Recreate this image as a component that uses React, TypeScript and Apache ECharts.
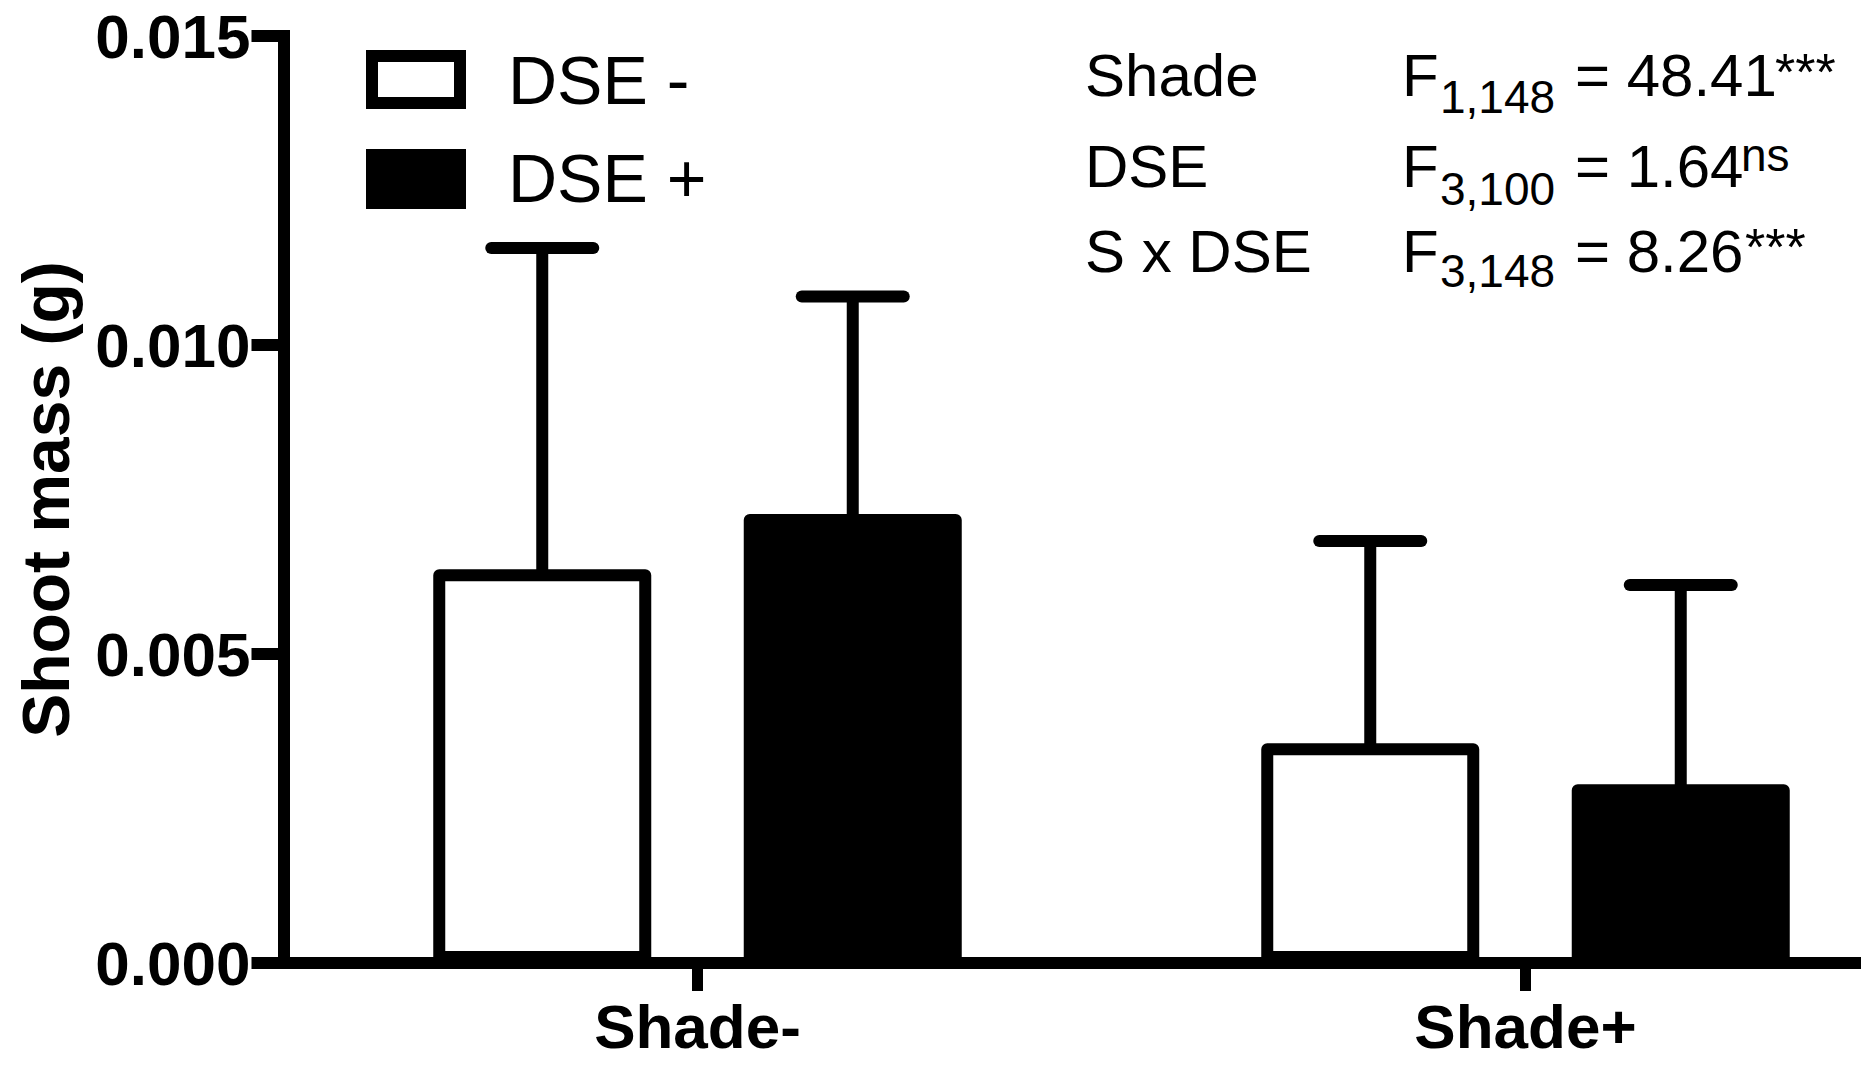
import React, { useEffect, useRef } from "react";
import * as echarts from "echarts";

// ---- data ----
const categories = ["Shade-", "Shade+"];
const seriesNames = ["DSE -", "DSE +"];
const dseMinusMean = [0.00637, 0.003555];
const dsePlusMean = [0.007265, 0.002892];
const dseMinusErr = [0.0052, 0.003273];
const dsePlusErr = [0.00352, 0.003225];
const yMin = 0;
const yMax = 0.015;
const yInterval = 0.005;
const yAxisTitle = "Shoot mass (g)";
const statTerms = ["Shade", "DSE", "S x DSE"];
const statDf = ["1,148", "3,100", "3,148"];
const statF = ["48.41", "1.64", "8.26"];
const statSig = ["***", "ns", "***"];

// ---- styling constants ----
const FONT = "'Liberation Sans', Arial, Helvetica, sans-serif";
const LW = 12;
const BAR_WIDTH = 218;
const BAR_GAP_RATIO = 0.4243;
const BAR_OFFSET = (BAR_WIDTH * (1 + BAR_GAP_RATIO)) / 2;
const CAP_HALF = 51;
const CHART_W = 1950;
const CHART_H = 1067;

const statRowMainY = [75.9, 166.7, 251.7];
const statRowSubY = [96.8, 189, 271.4];
const statRowSupY = [72, 155, 247];
const statSupX = [1775, 1741, 1745];
const statSupSize = [52, 46, 52];

function errorSeries(name: string, means: number[], errs: number[], sign: number) {
  return {
    type: "custom",
    name: name + " err",
    silent: true,
    z: 5,
    data: means.map((m, i) => [i, m, errs[i]]),
    encode: { x: 0, y: 1 },
    renderItem: (_params: any, api: any) => {
      const ci = api.value(0);
      const mean = api.value(1);
      const err = api.value(2);
      const base = api.coord([ci, mean]);
      const top = api.coord([ci, mean + err]);
      const x = base[0] + sign * BAR_OFFSET;
      return {
        type: "group",
        children: [
          {
            type: "line",
            shape: { x1: x, y1: base[1] + LW / 2, x2: x, y2: top[1] },
            style: { stroke: "#000", lineWidth: LW },
          },
          {
            type: "line",
            shape: { x1: x - CAP_HALF, y1: top[1], x2: x + CAP_HALF, y2: top[1] },
            style: { stroke: "#000", lineWidth: LW, lineCap: "round" },
          },
        ],
      };
    },
  };
}

export default function App() {
  const ref = useRef<HTMLDivElement>(null);

  useEffect(() => {
    if (!ref.current) return;
    const chart = echarts.init(ref.current, undefined, { renderer: "svg" });

    const graphics: any[] = [
      // legend
      {
        type: "rect",
        shape: { x: 372, y: 56, width: 88, height: 47 },
        style: { fill: "#fff", stroke: "#000", lineWidth: LW },
        silent: true,
      },
      {
        type: "rect",
        shape: { x: 366, y: 149, width: 100, height: 60 },
        style: { fill: "#000" },
        silent: true,
      },
      {
        type: "text",
        style: {
          text: seriesNames[0], x: 508, y: 79.7, fontSize: 68, fontFamily: FONT,
          fill: "#000", align: "left", verticalAlign: "middle",
        },
        silent: true,
      },
      {
        type: "text",
        style: {
          text: seriesNames[1], x: 508, y: 178, fontSize: 68, fontFamily: FONT,
          fill: "#000", align: "left", verticalAlign: "middle",
        },
        silent: true,
      },
    ];

    statTerms.forEach((term, i) => {
      const base = { fontFamily: FONT, fill: "#000", align: "left", verticalAlign: "middle" };
      graphics.push(
        { type: "text", silent: true, style: { ...base, text: term, x: 1085, y: statRowMainY[i], fontSize: 60 } },
        { type: "text", silent: true, style: { ...base, text: "F", x: 1402, y: statRowMainY[i], fontSize: 60 } },
        { type: "text", silent: true, style: { ...base, text: statDf[i], x: 1440, y: statRowSubY[i], fontSize: 46 } },
        { type: "text", silent: true, style: { ...base, text: "= " + statF[i], x: 1575, y: statRowMainY[i], fontSize: 60 } },
        { type: "text", silent: true, style: { ...base, text: statSig[i], x: statSupX[i], y: statRowSupY[i], fontSize: statSupSize[i] } }
      );
    });

    chart.setOption({
      animation: false,
      backgroundColor: "#fff",
      grid: {
        left: 283.5, right: 10.5, top: 36, bottom: 104,
        containLabel: false, outerBoundsMode: "none",
      },
      xAxis: {
        type: "category",
        data: categories,
        axisLine: { show: true, lineStyle: { color: "#000", width: LW } },
        axisTick: {
          show: true, interval: 0, alignWithLabel: true, inside: false, length: 28,
          lineStyle: { color: "#000", width: 11 },
        },
        axisLabel: {
          fontSize: 62, fontWeight: "bold", fontFamily: FONT, color: "#000", margin: 32,
        },
        splitLine: { show: false },
      },
      yAxis: {
        type: "value",
        min: yMin,
        max: yMax,
        interval: yInterval,
        name: yAxisTitle,
        nameLocation: "middle",
        nameGap: 205,
        nameRotate: 90,
        nameTextStyle: { fontSize: 66, fontWeight: "bold", fontFamily: FONT, color: "#000" },
        axisLine: { show: true, lineStyle: { color: "#000", width: LW, cap: "square" } },
        axisTick: { show: true, length: 32, lineStyle: { color: "#000", width: LW } },
        axisLabel: {
          fontSize: 62, fontWeight: "bold", fontFamily: FONT, color: "#000", margin: 33,
          formatter: (v: number) => v.toFixed(3),
        },
        splitLine: { show: false },
      },
      graphic: graphics,
      series: [
        {
          type: "bar",
          name: seriesNames[0],
          data: dseMinusMean,
          barWidth: BAR_WIDTH,
          barGap: BAR_GAP_RATIO * 100 + "%",
          silent: true,
          itemStyle: { color: "#fff", borderColor: "#000", borderWidth: LW, borderJoin: "round" },
        },
        {
          type: "bar",
          name: seriesNames[1],
          data: dsePlusMean,
          barWidth: BAR_WIDTH,
          barGap: BAR_GAP_RATIO * 100 + "%",
          silent: true,
          itemStyle: { color: "#000", borderColor: "#000", borderWidth: LW, borderJoin: "round" },
        },
        errorSeries(seriesNames[0], dseMinusMean, dseMinusErr, -1),
        errorSeries(seriesNames[1], dsePlusMean, dsePlusErr, 1),
      ],
    });

    return () => chart.dispose();
  }, []);

  return (
    <div
      style={{
        position: "fixed",
        left: 0,
        top: 0,
        width: 1861,
        height: 1067,
        overflow: "hidden",
        background: "#fff",
      }}
    >
      <div ref={ref} style={{ width: CHART_W, height: CHART_H }} />
    </div>
  );
}
